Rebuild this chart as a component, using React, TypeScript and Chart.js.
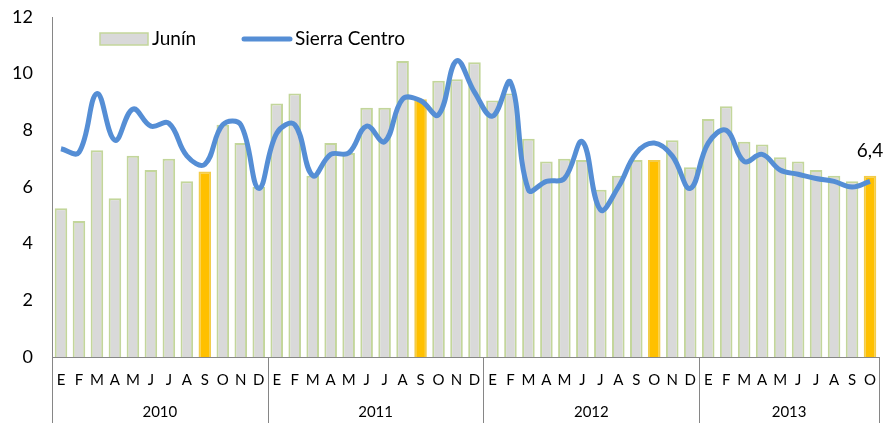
import React, { useEffect, useRef } from "react";
import { Chart, registerables } from "chart.js";

Chart.register(...registerables);

// ---- data ----
const years = ["2010", "2011", "2012", "2013"];
const monthsPerYear = [12, 12, 12, 10];
const monthInitials = ["E", "F", "M", "A", "M", "J", "J", "A", "S", "O", "N", "D"];

const junin = [
  5.25, 4.8, 7.3, 5.6, 7.1, 6.6, 7.0, 6.2, 6.55, 8.2, 7.55, 6.0,
  8.95, 9.3, 6.4, 7.55, 7.2, 8.8, 8.8, 10.45, 9.1, 9.75, 9.8, 10.4,
  9.05, 9.3, 7.7, 6.9, 7.0, 6.95, 5.9, 6.4, 6.95, 6.95, 7.65, 6.7,
  8.4, 8.85, 7.6, 7.5, 7.05, 6.9, 6.6, 6.4, 6.2, 6.4,
];

const sierraCentro = [
  7.35, 7.22, 9.3, 7.65, 8.75, 8.15, 8.25, 7.1, 6.8, 8.2, 8.2, 5.95,
  7.9, 8.2, 6.4, 7.15, 7.2, 8.15, 7.6, 9.1, 9.05, 8.55, 10.45, 9.35,
  8.5, 9.7, 5.9, 6.2, 6.3, 7.6, 5.2, 6.0, 7.2, 7.55, 7.1, 5.95,
  7.55, 8.0, 6.9, 7.15, 6.6, 6.45, 6.3, 6.2, 6.0, 6.2,
];

const highlighted = [8, 20, 33, 45];
const yTicks = [0, 2, 4, 6, 8, 10, 12];
const seriesNames = ["Junín", "Sierra Centro"];

// ---- style ----
const FONT = "Lato, 'Open Sans', sans-serif";
const BAR_FILL = "#d9d9d9";
const BAR_EDGE = "#c3d69b";
const HI_FILL = "#ffc000";
const LINE = "#558ed5";
const AXIS = "#868686";
const TEXT = "#000000";

const labels: string[] = years.flatMap((_, i) => monthInitials.slice(0, monthsPerYear[i]));

const decorPlugin = {
  id: "decor",
  afterDraw(chart: any) {
    const ctx = chart.ctx as CanvasRenderingContext2D;
    const xs = chart.scales.x;
    const area = chart.chartArea;
    const h = chart.height;
    const step = xs.getPixelForValue(1) - xs.getPixelForValue(0);
    ctx.save();
    // year separators and labels
    ctx.strokeStyle = AXIS;
    ctx.lineWidth = 1;
    ctx.fillStyle = TEXT;
    ctx.font = `15px ${FONT}`;
    ctx.textAlign = "center";
    ctx.textBaseline = "middle";
    let idx = 0;
    years.forEach((yr, i) => {
      const start = idx;
      const end = idx + monthsPerYear[i] - 1;
      const left = xs.getPixelForValue(start) - step / 2;
      const right = xs.getPixelForValue(end) + step / 2;
      [left, right].forEach((x) => {
        const px = Math.round(x) + 0.5;
        ctx.beginPath();
        ctx.moveTo(px, area.bottom);
        ctx.lineTo(px, h);
        ctx.stroke();
      });
      ctx.fillText(yr, (left + right) / 2, 412);
      idx += monthsPerYear[i];
    });

    // legend
    ctx.font = `19px ${FONT}`;
    ctx.textAlign = "left";
    ctx.textBaseline = "middle";
    ctx.fillStyle = BAR_FILL;
    ctx.fillRect(100, 33, 48, 12);
    ctx.strokeStyle = BAR_EDGE;
    ctx.lineWidth = 1.5;
    ctx.strokeRect(100, 33, 48, 12);
    ctx.fillStyle = TEXT;
    ctx.fillText(seriesNames[0], 152, 39);
    ctx.strokeStyle = LINE;
    ctx.lineWidth = 5;
    ctx.lineCap = "round";
    ctx.beginPath();
    ctx.moveTo(244, 39);
    ctx.lineTo(290, 39);
    ctx.stroke();
    ctx.fillText(seriesNames[1], 295, 39);

    // data label for last bar
    const meta = chart.getDatasetMeta(0);
    const last = meta.data[meta.data.length - 1];
    const val = junin[junin.length - 1];
    ctx.textAlign = "center";
    ctx.textBaseline = "alphabetic";
    ctx.font = `19px ${FONT}`;
    ctx.fillText(val.toFixed(1).replace(".", ","), last.x, last.y - 18.5);
    ctx.restore();
  },
};

export default function App() {
  const ref = useRef<HTMLCanvasElement | null>(null);

  useEffect(() => {
    if (!ref.current) return;
    const bg = junin.map((_, i) => (highlighted.includes(i) ? HI_FILL : BAR_FILL));
    const bd = junin.map((_, i) => (highlighted.includes(i) ? "#f2cc4a" : BAR_EDGE));
    const chart = new Chart(ref.current, {
      type: "bar",
      data: {
        labels,
        datasets: [
          {
            type: "bar",
            label: seriesNames[0],
            data: junin,
            backgroundColor: bg,
            borderColor: bd,
            borderWidth: 2,
            barPercentage: 0.7,
            categoryPercentage: 1,
            order: 1,
          },
          {
            type: "line",
            label: seriesNames[1],
            data: sierraCentro,
            borderColor: LINE,
            borderWidth: 5,
            tension: 0.4,
            pointRadius: 0,
            fill: false,
            order: 0,
          },
        ],
      } as any,
      options: {
        responsive: false,
        animation: false,
        devicePixelRatio: 1,
        layout: { padding: { top: 17, right: 8, left: 0, bottom: 0 } },
        plugins: {
          legend: { display: false },
          title: { display: false },
          tooltip: { enabled: false },
        },
        scales: {
          x: {
            type: "category",
            offset: true,
            grid: { display: false, drawTicks: false },
            border: { display: true, color: AXIS, width: 1 },
            ticks: {
              autoSkip: false,
              maxRotation: 0,
              minRotation: 0,
              padding: 14,
              color: TEXT,
              font: { family: FONT, size: 15 },
            },
            afterFit: (s: any) => {
              s.height = 66;
              s.paddingLeft = 0;
              s.paddingRight = 0;
            },
          },
          y: {
            min: 0,
            max: 12,
            afterBuildTicks: (s: any) => {
              s.ticks = yTicks.map((v) => ({ value: v }));
            },
            grid: { display: false, drawTicks: false },
            border: { display: true, color: AXIS, width: 1 },
            ticks: {
              padding: 19,
              color: TEXT,
              font: { family: FONT, size: 18 },
            },
            afterFit: (s: any) => {
              s.width = 52;
              s.paddingTop = 0;
              s.paddingBottom = 0;
            },
          },
        },
      } as any,
      plugins: [decorPlugin],
    });
    return () => chart.destroy();
  }, []);

  return (
    <div style={{ position: "fixed", left: 0, top: 0, width: 887, height: 423, background: "#fff" }}>
      <canvas ref={ref} width={887} height={423} style={{ width: 887, height: 423, display: "block" }} />
    </div>
  );
}
